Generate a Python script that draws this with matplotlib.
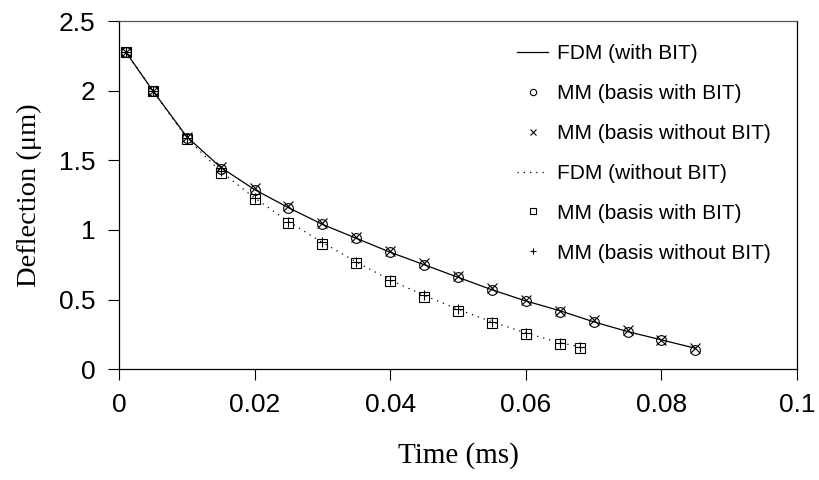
import matplotlib
matplotlib.use("Agg")
import matplotlib.pyplot as plt

# time points (ms)
t_with = [0.001, 0.005, 0.01, 0.015, 0.02, 0.025, 0.03, 0.035, 0.04, 0.045,
          0.05, 0.055, 0.06, 0.065, 0.07, 0.075, 0.08, 0.085]
t_without = [0.001, 0.005, 0.01, 0.015, 0.02, 0.025, 0.03, 0.035, 0.04, 0.045,
             0.05, 0.055, 0.06, 0.065, 0.068]

# FDM curves
fdm_with = [2.28, 2.0, 1.67, 1.45, 1.29, 1.16, 1.04, 0.94, 0.84, 0.75,
            0.66, 0.57, 0.49, 0.42, 0.34, 0.27, 0.21, 0.15]
fdm_without = [2.28, 2.0, 1.66, 1.42, 1.23, 1.06, 0.91, 0.77, 0.64, 0.53,
               0.43, 0.34, 0.26, 0.19, 0.16]

# MM results
mm_with_basis_bit = [2.28, 2.0, 1.66, 1.44, 1.29, 1.16, 1.04, 0.94, 0.84, 0.75,
                     0.66, 0.57, 0.49, 0.41, 0.34, 0.27, 0.21, 0.14]
mm_with_basis_nobit = [2.28, 2.0, 1.67, 1.45, 1.30, 1.17, 1.05, 0.95, 0.85, 0.76,
                       0.67, 0.58, 0.50, 0.42, 0.35, 0.28, 0.21, 0.15]
mm_without_basis_bit = [2.28, 2.0, 1.65, 1.41, 1.22, 1.05, 0.90, 0.76, 0.63, 0.52,
                        0.42, 0.33, 0.25, 0.18, 0.15]
mm_without_basis_nobit = [2.28, 2.0, 1.66, 1.42, 1.23, 1.06, 0.91, 0.77, 0.64, 0.53,
                          0.43, 0.34, 0.26, 0.19, 0.16]

plt.rcParams['font.family'] = ['Liberation Sans', 'DejaVu Sans']

fig = plt.figure(figsize=(8.2, 4.8), dpi=100)
ax = fig.add_axes([0.145, 0.231, 0.827, 0.725])

ax.plot(t_with, fdm_with, color='black', lw=0.9, label='FDM (with BIT)')
ax.plot(t_with, mm_with_basis_bit, ls='none', marker='o', ms=7, mfc='none',
        mec='black', mew=0.8, label='MM (basis with BIT)')
ax.plot(t_with, mm_with_basis_nobit, ls='none', marker='x', ms=7,
        color='black', mew=0.8, label='MM (basis without BIT)')
ax.plot(t_without, fdm_without, color='black', lw=0.9, ls=(0, (1, 4)),
        label='FDM (without BIT)')
ax.plot(t_without, mm_without_basis_bit, ls='none', marker='s', ms=7, mfc='none',
        mec='black', mew=0.8, label='MM (basis with BIT)')
ax.plot(t_without, mm_without_basis_nobit, ls='none', marker='+', ms=7,
        color='black', mew=0.8, label='MM (basis without BIT)')

ax.set_xlim(0, 0.1)
ax.set_ylim(0, 2.5)
ax.set_xticks([0, 0.02, 0.04, 0.06, 0.08, 0.1])
ax.set_xticklabels(['0', '0.02', '0.04', '0.06', '0.08', '0.1'])
ax.set_yticks([0, 0.5, 1, 1.5, 2, 2.5])
ax.set_yticklabels(['0', '0.5', '1', '1.5', '2', '2.5'])
ax.tick_params(labelsize=19, length=8, width=0.8, direction='out', pad=9)

for s in ax.spines.values():
    s.set_linewidth(0.9)
ax.spines['top'].set_color('#555555')

ax.set_xlabel('Time (ms)', fontsize=21, family='Liberation Serif', labelpad=18)
ax.set_ylabel('Deflection (μm)', fontsize=20.5, family='Liberation Serif', labelpad=12)

ax.legend(loc='upper right', frameon=False, fontsize=15, markerscale=0.65,
          handlelength=1.5, handletextpad=0.4, labelspacing=1.0,
          borderaxespad=0.3, bbox_to_anchor=(0.982, 0.975))

fig.savefig('out.png', dpi=100)
